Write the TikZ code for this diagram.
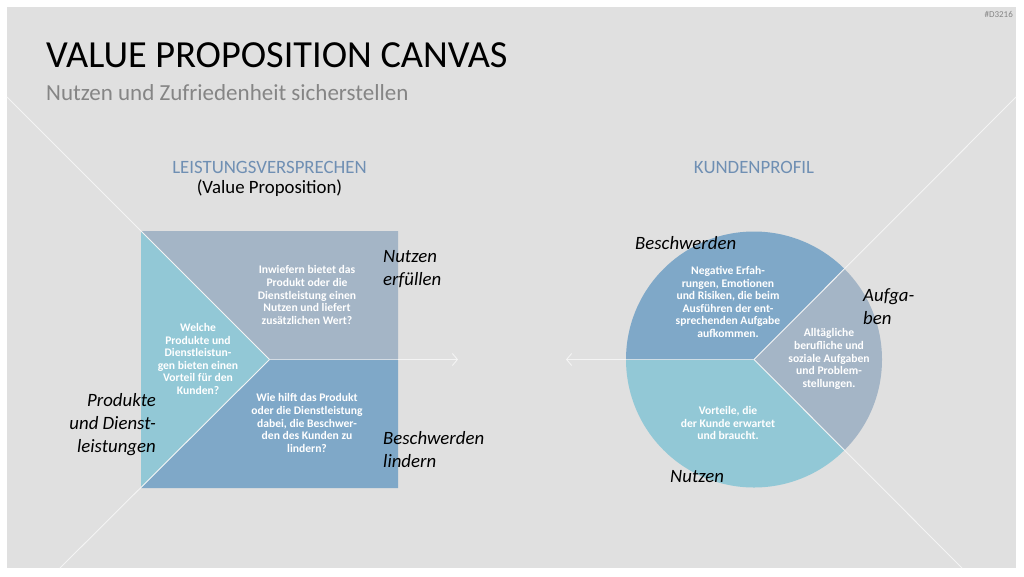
\documentclass[tikz,border=0pt]{standalone}
\usepackage{fontspec}
\setmainfont{Carlito}
\usetikzlibrary{arrows.meta}
\definecolor{panel}{HTML}{E0E0E0}
\definecolor{greyblue}{HTML}{A4B5C6}
\definecolor{cyanl}{HTML}{92C8D6}
\definecolor{steel}{HTML}{7FA8C8}
\definecolor{headblue}{HTML}{6F8FB3}
\definecolor{subgrey}{HTML}{858585}
\definecolor{wl}{HTML}{F4F4F4}
\begin{document}
\begin{tikzpicture}[x=1pt,y=-1pt,
  wline/.style={draw=wl,line width=0.9pt},
  inline/.style={draw=wl,line width=0.6pt,opacity=0.6},
  arr/.style={wline,-{Straight Barb[length=5pt,width=12pt,line width=0.9pt]}},
  wtext/.style={text=white,font=\bfseries\fontsize{11.6}{12.6}\selectfont,align=center,inner sep=0pt},
  ilabel/.style={font=\itshape\fontsize{18.8}{23}\selectfont,inner sep=0pt},
  head/.style={text=headblue,font=\fontsize{18.8}{22}\selectfont,inner sep=0pt}]
\useasboundingbox (0,0) rectangle (1024,576);
\fill[white] (0,0) rectangle (1024,576);
\fill[panel] (7,7) rectangle (1016,568);
% key coordinates
\coordinate (sq) at (269.5,359.5);
\coordinate (ci) at (754,359.5);
\coordinate (tl) at (7,97);
\coordinate (bl) at (60,568);
\coordinate (tr) at (1016,97);
\coordinate (br) at (962,568);
\coordinate (sqR) at (398,359.5);
\coordinate (ciL) at (626,359.5);
\coordinate (arrR) at (458,359.5);
\coordinate (arrL) at (566,359.5);
% square
\fill[greyblue] (141,231) -- (398,231) -- (sqR) -- (sq) -- cycle;
\fill[cyanl] (141,231) -- (sq) -- (141,488) -- cycle;
\fill[steel] (141,488) -- (sq) -- (sqR) -- (398,488) -- cycle;
% circle
\fill[steel] (ci) -- ++(180:128) arc[start angle=180,end angle=315,radius=128] -- cycle;
\fill[greyblue] (ci) -- ++(-45:128) arc[start angle=-45,end angle=45,radius=128] -- cycle;
\fill[cyanl] (ci) -- ++(45:128) arc[start angle=45,end angle=180,radius=128] -- cycle;
% inner boundary lines
\draw[inline] (sq) -- (sqR);
\draw[inline] (ci) -- (ciL);
% diagonal lines
\draw[wline] (tl) -- (sq);
\draw[wline] (bl) -- (sq);
\draw[wline] (tr) -- (ci);
\draw[wline] (br) -- (ci);
% arrows
\draw[arr] (sqR) -- (arrR);
\draw[arr] (ciL) -- (arrL);
% titles
\node[anchor=base west,inner sep=0pt,font=\fontsize{38.3}{46}\selectfont] (title) at (46,67) {VALUE PROPOSITION CANVAS};
\node[anchor=base west,inner sep=0pt,text=subgrey,font=\fontsize{23}{28}\selectfont] (sub) at (46,100) {Nutzen und Zufriedenheit sicherstellen};
\node[anchor=east,inner sep=0pt,text=subgrey,font=\fontsize{9}{11}\selectfont] (code) at (1013,14) {\#D3216};
\node[head] (lv) at (269.5,167) {LEISTUNGSVERSPRECHEN};
\node[inner sep=0pt,font=\fontsize{18.8}{22}\selectfont] (vp) at (269.5,188) {(Value Proposition)};
\node[head] (kp) at (754,167) {KUNDENPROFIL};
% italic labels
\node[ilabel,anchor=west,align=left] (ne) at (383,269.5) {Nutzen\\erfüllen};
\node[ilabel,anchor=west,align=left] (bli) at (383,449.5) {Beschwerden\\lindern};
\node[ilabel,anchor=east,align=right] (pd) at (156,425) {Produkte\\und Dienst-\\leistungen};
\node[ilabel,anchor=west] (bw) at (635,243) {Beschwerden};
\node[ilabel,anchor=west,align=left] (au) at (863,306.5) {Aufga-\\ben};
\node[ilabel,anchor=west] (nu) at (670,477) {Nutzen};
% white texts
\node[wtext] (t1) at (307,295) {Inwiefern bietet das\\Produkt oder die\\Dienstleistung einen\\Nutzen und liefert\\zusätzlichen Wert?};
\node[wtext] (t2) at (198,359) {Welche\\Produkte und\\Dienstleistun-\\gen bieten einen\\Vorteil für den\\Kunden?};
\node[wtext] (t3) at (307,423) {Wie hilft das Produkt\\oder die Dienstleistung\\dabei, die Beschwer-\\den des Kunden zu\\lindern?};
\node[wtext] (t4) at (728,302) {Negative Erfah-\\rungen, Emotionen\\und Risiken, die beim\\Ausführen der ent-\\sprechenden Aufgabe\\aufkommen.};
\node[wtext] (t5) at (829,359) {Alltägliche\\berufliche und\\soziale Aufgaben\\und Problem-\\stellungen.};
\node[wtext] (t6) at (728,423) {Vorteile, die\\der Kunde erwartet\\und braucht.};
\end{tikzpicture}
\end{document}
